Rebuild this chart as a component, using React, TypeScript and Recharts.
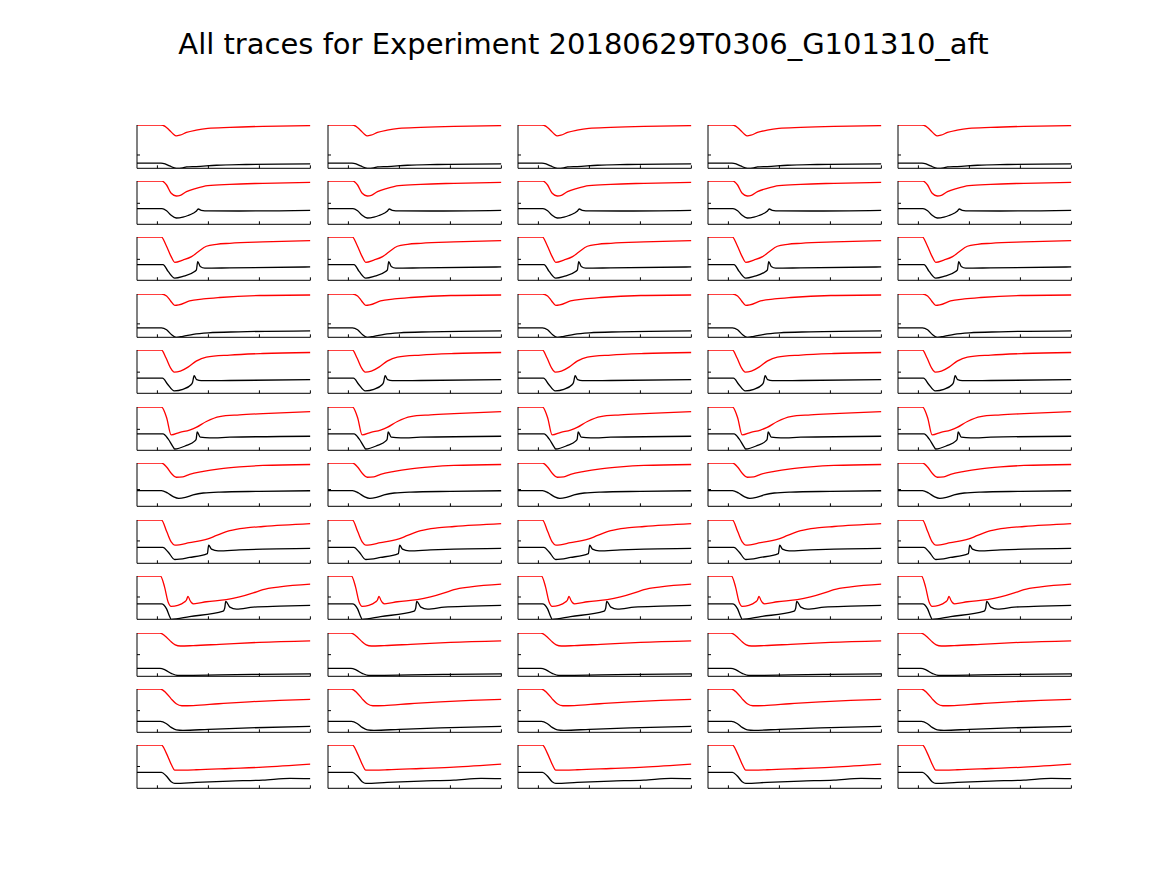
import { LineChart, Line, XAxis, YAxis } from 'recharts';

const TITLE = 'All traces for Experiment 20180629T0306_G101310_aft';

// time axis shared by every panel
const X_DOMAIN = [60, 400];
const X_TICKS = [100, 200, 300, 400];
const Y_TICKS = [0];

const RED_1 = [[60, 29.3], [107, 29.3], [115, 28], [124, 24], [131, 20.5], [137, 18.7], [144, 19.3], [157, 22], [176, 24.3], [199, 26], [242, 27], [307, 28], [400, 28.7]];
const BLACK_1 = [[60, -8], [107, -8], [115, -8.7], [124, -10.7], [137, -13], [150, -12.5], [157, -11.7], [176, -11.3], [216, -10], [274, -9.3], [400, -8.7]];

const RED_2 = [[60, 22.3], [109, 22.3], [118, 18.3], [127, 10], [137, 7.3], [145, 8], [157, 11.7], [176, 15], [199, 17.7], [242, 19], [307, 20], [400, 21]];
const BLACK_2 = [[60, -5.3], [109, -5.3], [118, -7.5], [127, -12], [137, -14.7], [150, -13.8], [160, -12.2], [170, -10], [176, -8], [180, -5.7], [186, -7], [200, -7.6], [260, -7.7], [400, -7]];

const RED_3 = [[60, 22.7], [108, 22.7], [117, 14.3], [127, 2.7], [134, -3], [150, -0.7], [167, 2.7], [180, 7.7], [196, 13.3], [216, 15.3], [242, 16.3], [307, 17.7], [400, 19]];
const BLACK_3 = [[60, -5.3], [111, -5.3], [121, -12.3], [134, -19], [150, -17.3], [173, -12.3], [176.5, -10.7], [179, -2.3], [184, -7.3], [193, -9], [242, -8.7], [400, -7.7]];

const RED_4 = [[60, 30], [108, 30], [118, 28], [126, 23], [134, 18.5], [142, 19], [163, 23], [190, 25], [222, 26.5], [301, 28.5], [400, 29]];
const BLACK_4 = [[60, -4], [108, -4], [118, -6], [128, -11], [137, -13.5], [150, -12.5], [170, -10.5], [200, -9], [260, -8], [400, -7]];

const RED_5 = [[60, 22], [108, 22], [117, 14], [126, 4], [133, 0], [145, 1], [160, 5], [176, 11], [196, 15], [242, 17], [307, 18.5], [400, 19.5]];
const BLACK_5 = [[60, -6], [110, -6], [120, -12], [133, -18.5], [150, -17], [166, -12.5], [169, -10], [172, -3.5], [177, -7.5], [186, -8.5], [242, -8.3], [400, -7.5]];

const RED_6 = [[60, 22.7], [108, 22.7], [118, 12], [127, -5.7], [144, -3], [163, -0.7], [176, 2], [196, 8], [222, 13], [261, 14.7], [307, 16], [400, 18]];
const BLACK_6 = [[60, -4.7], [111, -4.7], [121, -9.7], [131, -18], [134, -20], [157, -16.3], [173, -12], [176, -10], [178, -2.7], [184, -8], [203, -8.7], [242, -8], [400, -7]];

const RED_7 = [[60, 27], [108, 27], [118, 23], [128, 16], [137, 12.5], [150, 13], [163, 15.5], [190, 18.5], [222, 21], [261, 23], [307, 24.5], [400, 25.5]];
const BLACK_7 = [[60, -1], [108, -1], [120, -3.5], [132, -7.5], [142, -9], [155, -8], [170, -5.5], [190, -3.5], [222, -2.5], [300, -1.8], [400, -1.2]];

const RED_8 = [[60, 20.3], [108, 20.3], [118, 9.3], [127, -1], [134, -4], [163, -1.7], [199, 2], [216, 5.3], [242, 10], [274, 12.7], [307, 14], [400, 16.7]];
const BLACK_8 = [[60, -6.3], [111, -6.3], [121, -10.7], [134, -18], [163, -16], [198, -12.3], [200.5, -4], [206, -8], [219, -9.7], [261, -8.7], [307, -8], [400, -7.3]];

const RED_9 = [[60, 20.7], [106, 20.7], [114, 10], [121, -5], [127, -9.3], [140, -8.3], [153, -5], [157, -3], [160, 0.7], [164, -3.5], [167, -5.7], [171, -6.7], [196, -4.7], [235, -2.7], [261, 0], [288, 4], [307, 7.3], [340, 10], [400, 12.7]];
const BLACK_9 = [[60, -6.7], [108, -6.7], [118, -11.7], [124, -19.3], [127, -22], [163, -19.3], [229, -14], [232, -11], [234, -4.3], [242, -10], [255, -12], [288, -10], [340, -9], [400, -8.3]];

const RED_10 = [[60, 22], [105, 22], [115, 19], [125, 14], [135, 10], [145, 8.8], [170, 9.2], [222, 10.5], [300, 12.5], [400, 14]];
const BLACK_10 = [[60, -14], [105, -14], [115, -15.5], [127, -19], [140, -21.2], [170, -21], [222, -20.5], [300, -20], [400, -19.5]];

const RED_11 = [[60, 22], [106, 22], [117, 18], [127, 12], [137, 7], [148, 5], [170, 5.2], [220, 7], [280, 9], [340, 10.5], [400, 11.5]];
const BLACK_11 = [[60, -11], [106, -11], [117, -13], [127, -17], [137, -19.5], [150, -20], [200, -19], [280, -17.5], [400, -16]];

const RED_12 = [[60, 21.7], [108, 21.7], [117, 14], [127, 2.3], [134, -3.7], [176, -3.3], [242, -2], [307, -0.7], [400, 2.3]];
const BLACK_12 = [[60, -6], [108, -6], [117, -9.3], [127, -15.3], [134, -17], [176, -16], [242, -14.7], [307, -13.7], [360, -12], [400, -12.3]];

const ROW_RED = [RED_1, RED_2, RED_3, RED_4, RED_5, RED_6, RED_7, RED_8, RED_9, RED_10, RED_11, RED_12];
const ROW_BLACK = [BLACK_1, BLACK_2, BLACK_3, BLACK_4, BLACK_5, BLACK_6, BLACK_7, BLACK_8, BLACK_9, BLACK_10, BLACK_11, BLACK_12];
const ROW_Y_RANGE = [[-13, 29.3], [-21, 22.3], [-21.3, 22.7], [-13.5, 30], [-21, 22], [-21.3, 22.7], [-17, 27], [-21.7, 20.3], [-22, 20.7], [-22, 22], [-22, 22], [-22, 21.7]];
const N_COLS = 5;

// layout (px)
const COL_LEFT = [137.3, 327.5, 517.8, 708, 898.3];
const PANEL_W = 173.4;
const PANEL_H = 43.3;
const ROW_TOP = 124.5;
const ROW_STEP = 56.45;
const PAD = 3;

const toPoints = (pairs: number[][]) => pairs.map(([t, v]) => ({ t, v }));
const NoLabel = () => <g />;

function Panel({ row, col }: { row: number; col: number }) {
  // the 1px axis strips sit inside the padding so the plot box lands on the panel
  const left = COL_LEFT[col] - PAD - 1;
  const top = ROW_TOP + row * ROW_STEP - PAD;
  return (
    <div style={{ position: 'absolute', left, top }}>
      <LineChart
        width={PANEL_W + PAD * 2 + 1}
        height={PANEL_H + PAD * 2 + 1}
        margin={{ top: PAD, right: PAD, bottom: PAD, left: PAD }}
      >
        <XAxis
          type="number"
          dataKey="t"
          domain={X_DOMAIN}
          ticks={X_TICKS}
          allowDataOverflow
          height={1}
          tickSize={-3}
          tick={NoLabel}
          stroke="#000"
          axisLine={{ stroke: '#000', strokeWidth: 1 }}
          tickLine={{ stroke: '#000', strokeWidth: 1 }}
        />
        <YAxis
          type="number"
          domain={ROW_Y_RANGE[row]}
          ticks={Y_TICKS}
          allowDataOverflow
          width={1}
          tickSize={-3}
          tick={NoLabel}
          stroke="#000"
          axisLine={{ stroke: '#000', strokeWidth: 1 }}
          tickLine={{ stroke: '#000', strokeWidth: 1 }}
        />
        <Line
          data={toPoints(ROW_RED[row])}
          dataKey="v"
          type="monotone"
          dot={false}
          stroke="#ff0000"
          strokeWidth={1.3}
          isAnimationActive={false}
        />
        <Line
          data={toPoints(ROW_BLACK[row])}
          dataKey="v"
          type="monotone"
          dot={false}
          stroke="#000000"
          strokeWidth={1.3}
          isAnimationActive={false}
        />
      </LineChart>
    </div>
  );
}

export default function App() {
  const panels = [];
  for (let r = 0; r < ROW_RED.length; r++) {
    for (let c = 0; c < N_COLS; c++) {
      panels.push(<Panel key={`${r}-${c}`} row={r} col={c} />);
    }
  }
  return (
    <div style={{ position: 'absolute', left: 0, top: 0, width: 1167, height: 875, background: '#fff' }}>
      <div
        style={{
          position: 'absolute',
          left: 0,
          width: 1167,
          top: 27,
          textAlign: 'center',
          fontFamily: 'DejaVu Sans',
          fontSize: 29,
          color: '#000',
        }}
      >
        {TITLE}
      </div>
      {panels}
    </div>
  );
}
